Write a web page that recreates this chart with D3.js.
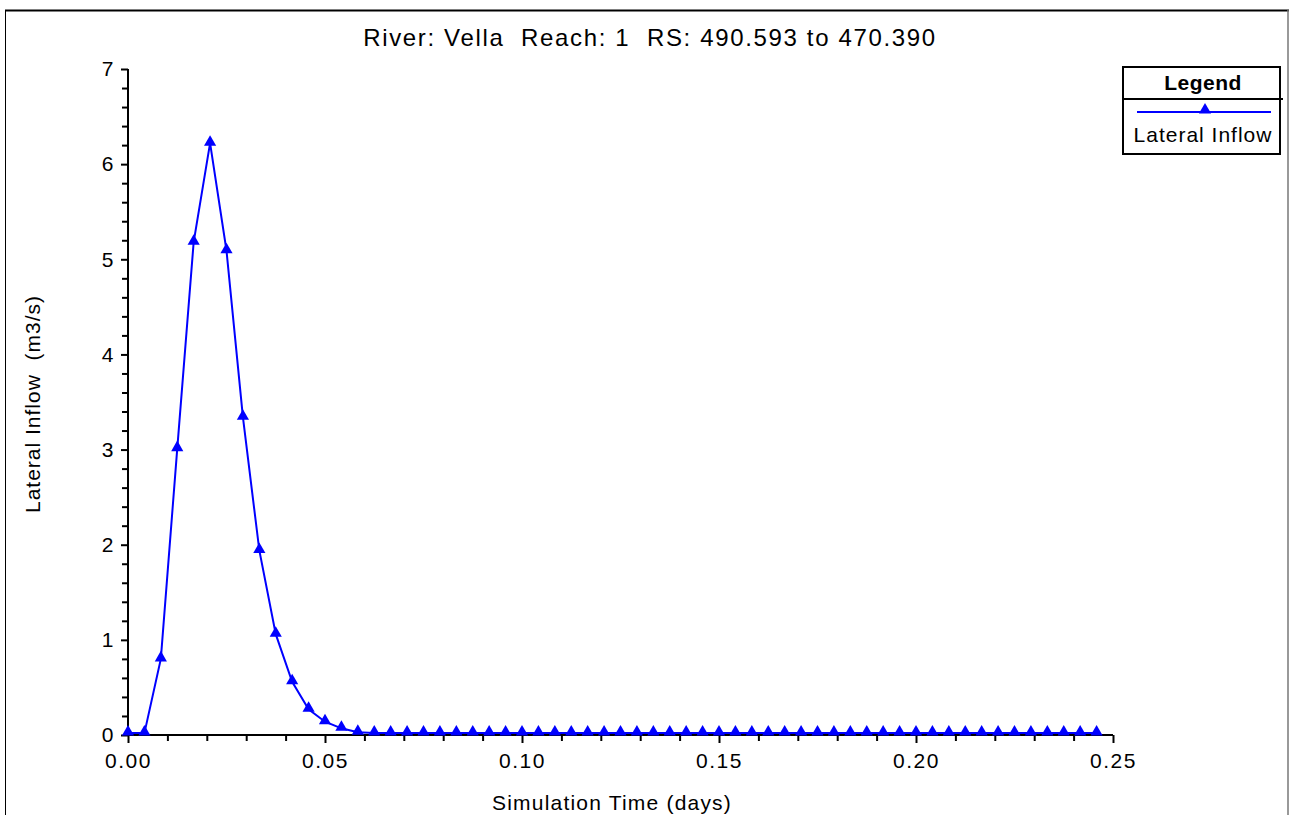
<!DOCTYPE html>
<html>
<head>
<meta charset="utf-8">
<script src="https://cdn.jsdelivr.net/npm/d3@7"></script>
<style>
  html, body { margin: 0; padding: 0; background: #fff; }
  svg { display: block; font-family: "Liberation Sans", Arial, sans-serif; }
  svg text { white-space: pre; }
</style>
</head>
<body>
<svg id="chart" width="1292" height="815"></svg>
<script>
// ---- data ----
const title = "River: Vella  Reach: 1  RS: 490.593 to 470.390";
const xLabel = "Simulation Time (days)";
const yLabel = "Lateral Inflow  (m3/s)";
const seriesName = "Lateral Inflow";
// simulation time in minutes (6-minute output interval)
const timeMinutes = [0, 6, 12, 18, 24, 30, 36, 42, 48, 54,
  60, 66, 72, 78, 84, 90, 96, 102, 108, 114,
  120, 126, 132, 138, 144, 150, 156, 162, 168, 174,
  180, 186, 192, 198, 204, 210, 216, 222, 228, 234,
  240, 246, 252, 258, 264, 270, 276, 282, 288, 294,
  300, 306, 312, 318, 324, 330, 336, 342, 348, 354];
const lateralInflow = [0.02, 0.02, 0.80, 3.01, 5.18, 6.22, 5.09, 3.34, 1.94, 1.06,
  0.56, 0.27, 0.14, 0.07, 0.03, 0.02, 0.02, 0.02, 0.02, 0.02,
  0.02, 0.02, 0.02, 0.02, 0.02, 0.02, 0.02, 0.02, 0.02, 0.02,
  0.02, 0.02, 0.02, 0.02, 0.02, 0.02, 0.02, 0.02, 0.02, 0.02,
  0.02, 0.02, 0.02, 0.02, 0.02, 0.02, 0.02, 0.02, 0.02, 0.02,
  0.02, 0.02, 0.02, 0.02, 0.02, 0.02, 0.02, 0.02, 0.02, 0.02];
const xTicks = [0, 0.05, 0.10, 0.15, 0.20, 0.25];
const yTicks = [0, 1, 2, 3, 4, 5, 6, 7];
const xMinorTicks = [0.01, 0.02, 0.03, 0.04, 0.06, 0.07, 0.08, 0.09, 0.11, 0.12, 0.13, 0.14,
  0.16, 0.17, 0.18, 0.19, 0.21, 0.22, 0.23, 0.24];
const yMinorTicks = [0.2, 0.4, 0.6, 0.8, 1.2, 1.4, 1.6, 1.8, 2.2, 2.4, 2.6, 2.8, 3.2, 3.4, 3.6, 3.8,
  4.2, 4.4, 4.6, 4.8, 5.2, 5.4, 5.6, 5.8, 6.2, 6.4, 6.6, 6.8];

const data = timeMinutes.map((m, i) => ({ t: m / 1440, v: lateralInflow[i] }));

// ---- layout ----
const svg = d3.select("#chart");
const plot = { left: 128, right: 1113, top: 69, bottom: 735 };
const blue = "#0000ff";

const x = d3.scaleLinear().domain([0, 0.25]).range([plot.left, plot.right]);
const y = d3.scaleLinear().domain([0, 7]).range([plot.bottom, plot.top]);

// outer frame
svg.append("line").attr("x1", 5).attr("x2", 1289).attr("y1", 10.5).attr("y2", 10.5)
  .attr("stroke", "#000").attr("stroke-width", 2);
svg.append("line").attr("x1", 5.5).attr("x2", 5.5).attr("y1", 10).attr("y2", 815)
  .attr("stroke", "#000").attr("stroke-width", 1);
svg.append("line").attr("x1", 1288).attr("x2", 1288).attr("y1", 10).attr("y2", 815)
  .attr("stroke", "#777").attr("stroke-width", 1.5);

// title
svg.append("text").attr("x", 650).attr("y", 46).attr("text-anchor", "middle")
  .attr("font-size", 24).attr("letter-spacing", 1.65).attr("fill", "#000").text(title);

// axes
const xAxis = d3.axisBottom(x).tickValues(xTicks).tickFormat(d3.format(".2f")).tickSize(8).tickPadding(10);
const yAxis = d3.axisLeft(y).tickValues(yTicks).tickFormat(d3.format("d")).tickSize(7).tickPadding(6);

const gx = svg.append("g").attr("transform", `translate(0,${plot.bottom})`).call(xAxis);
const gy = svg.append("g").attr("transform", `translate(${plot.left},0)`).call(yAxis);

svg.append("g").attr("transform", `translate(0,${plot.bottom})`)
  .call(d3.axisBottom(x).tickValues(xMinorTicks).tickFormat("").tickSize(6))
  .select(".domain").remove();
svg.append("g").attr("transform", `translate(${plot.left},0)`)
  .call(d3.axisLeft(y).tickValues(yMinorTicks).tickFormat("").tickSize(6))
  .select(".domain").remove();

svg.selectAll(".tick line").attr("stroke", "#000").attr("stroke-width", 2);
[gx, gy].forEach(g => {
  g.select(".domain").attr("stroke", "#000").attr("stroke-width", 2);
  g.selectAll("text").attr("font-size", 21).attr("font-family", "Liberation Sans, Arial, sans-serif")
    .attr("fill", "#000").attr("letter-spacing", 1.5);
});
gx.select(".domain").attr("d", `M${plot.left},0H${plot.right}`);
gy.select(".domain").attr("d", `M0,${plot.top}V${plot.bottom}`);

// axis labels
svg.append("text").attr("x", 612).attr("y", 810).attr("text-anchor", "middle")
  .attr("font-size", 21).attr("letter-spacing", 1.2).attr("fill", "#000").text(xLabel);
svg.append("text").attr("transform", "translate(40,404) rotate(-90)").attr("text-anchor", "middle")
  .attr("font-size", 21).attr("letter-spacing", 1.0).attr("fill", "#000").text(yLabel);

// series line
const line = d3.line().x(d => x(d.t)).y(d => y(d.v));
svg.append("path").datum(data).attr("d", line)
  .attr("fill", "none").attr("stroke", blue).attr("stroke-width", 2);

const tri = d3.symbol().type(d3.symbolTriangle).size(64);
svg.append("g").selectAll("path").data(data).join("path")
  .attr("transform", d => `translate(${x(d.t)},${y(d.v) - 1})`)
  .attr("d", tri).attr("fill", blue);

// legend
const lg = svg.append("g");
lg.append("rect").attr("x", 1123).attr("y", 67).attr("width", 157).attr("height", 87)
  .attr("fill", "#fff").attr("stroke", "#000").attr("stroke-width", 2);
lg.append("line").attr("x1", 1123).attr("x2", 1283).attr("y1", 99).attr("y2", 99)
  .attr("stroke", "#000").attr("stroke-width", 2);
lg.append("text").attr("x", 1203).attr("y", 90).attr("text-anchor", "middle")
  .attr("font-size", 21).attr("font-weight", "bold").attr("letter-spacing", 0.5).attr("fill", "#000").text("Legend");
lg.append("line").attr("x1", 1137).attr("x2", 1271).attr("y1", 112).attr("y2", 112)
  .attr("stroke", blue).attr("stroke-width", 2);
lg.append("path").attr("transform", "translate(1205,110)").attr("d", tri).attr("fill", blue);
lg.append("text").attr("x", 1203).attr("y", 142).attr("text-anchor", "middle")
  .attr("font-size", 21).attr("letter-spacing", 1.0).attr("fill", "#000").text(seriesName);
</script>
</body>
</html>
